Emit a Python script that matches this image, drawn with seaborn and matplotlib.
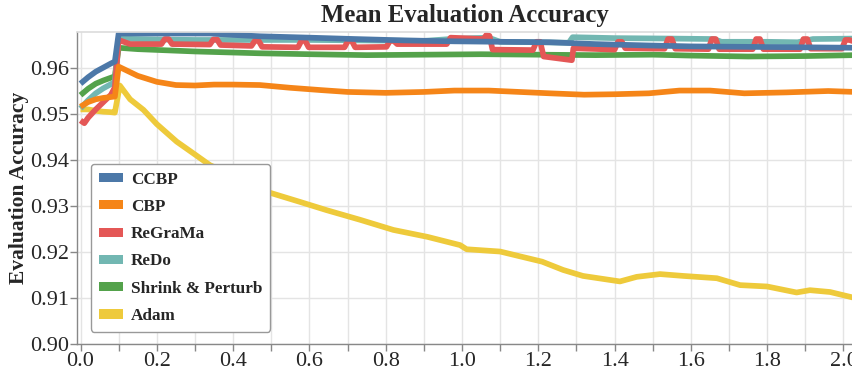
import pandas as pd
import numpy as np
import matplotlib
matplotlib.use("Agg")
import matplotlib.pyplot as plt
from matplotlib.patches import Patch
import seaborn as sns

# ---- data (x in units of the run, y = mean eval accuracy) ----
ccbp_x = [0.00, 0.02, 0.04, 0.06, 0.08, 0.09, 0.10, 0.20, 0.34, 0.40, 0.47, 0.60, 0.72,
          0.85, 0.98, 1.10, 1.23, 1.35, 1.49, 1.60, 1.75, 1.90, 2.03]
ccbp_y = [0.9566, 0.9580, 0.9592, 0.9601, 0.9610, 0.9614, 0.9675, 0.9675, 0.9675, 0.9672,
          0.9669, 0.9666, 0.9663, 0.9660, 0.9658, 0.9657, 0.9656, 0.9652, 0.9649, 0.9647,
          0.9646, 0.9645, 0.9644]

cbp_x = [0.00, 0.02, 0.04, 0.06, 0.08, 0.09, 0.10, 0.12, 0.15, 0.20, 0.25, 0.30, 0.35,
         0.40, 0.47, 0.55, 0.63, 0.70, 0.80, 0.90, 0.98, 1.07, 1.15, 1.23, 1.32, 1.40,
         1.49, 1.57, 1.65, 1.74, 1.85, 1.96, 2.03]
cbp_y = [0.9516, 0.9526, 0.9532, 0.9535, 0.9537, 0.9538, 0.9603, 0.9595, 0.9583, 0.9570,
         0.9563, 0.9562, 0.9564, 0.9564, 0.9563, 0.9557, 0.9552, 0.9548, 0.9546, 0.9548,
         0.9551, 0.9551, 0.9548, 0.9545, 0.9542, 0.9543, 0.9545, 0.9551, 0.9551, 0.9545,
         0.9547, 0.9550, 0.9548]

regrama_x = [0.00, 0.01, 0.02, 0.04, 0.06, 0.08, 0.09, 0.10, 0.11, 0.13,
             0.212, 0.221, 0.231, 0.240,
             0.339, 0.348, 0.358, 0.367,
             0.448, 0.457, 0.467, 0.476,
             0.570, 0.579, 0.589, 0.598,
             0.692, 0.701, 0.711, 0.720,
             0.802, 0.811, 0.821, 0.830,
             0.960, 0.970, 1.000, 1.056, 1.064, 1.072, 1.080,
             1.186, 1.195, 1.205, 1.214, 1.288, 1.292,
             1.400, 1.409, 1.419, 1.428,
             1.531, 1.540, 1.550, 1.559,
             1.646, 1.655, 1.665, 1.674,
             1.762, 1.771, 1.781, 1.790,
             1.886, 1.895, 1.905, 1.914,
             1.996, 2.005, 2.015, 2.03]
regrama_y = [0.9486, 0.9480, 0.9492, 0.9510, 0.9526, 0.9542, 0.9558, 0.9661, 0.9658, 0.9652,
             0.9652, 0.9663, 0.9663, 0.9652,
             0.9651, 0.9662, 0.9662, 0.9650,
             0.9648, 0.9659, 0.9659, 0.9646,
             0.9645, 0.9659, 0.9659, 0.9645,
             0.9645, 0.9659, 0.9659, 0.9645,
             0.9646, 0.9659, 0.9659, 0.9652,
             0.9652, 0.9666, 0.9665, 0.9663, 0.9672, 0.9670, 0.9640,
             0.9639, 0.9657, 0.9657, 0.9625, 0.9617, 0.9643,
             0.9640, 0.9657, 0.9657, 0.9643,
             0.9642, 0.9663, 0.9663, 0.9642,
             0.9641, 0.9663, 0.9663, 0.9641,
             0.9641, 0.9663, 0.9663, 0.9641,
             0.9641, 0.9663, 0.9663, 0.9642,
             0.9642, 0.9661, 0.9661, 0.9657]

redo_x = [0.00, 0.02, 0.04, 0.06, 0.08, 0.09, 0.10, 0.20, 0.30, 0.45, 0.60, 0.75, 0.90,
          0.97, 1.03, 1.07, 1.10, 1.20, 1.28, 1.29, 1.40, 1.55, 1.66, 1.68, 1.80, 1.88,
          1.92, 2.03]
redo_y = [0.9512, 0.9530, 0.9545, 0.9556, 0.9565, 0.9570, 0.9664, 0.9662, 0.9661, 0.9661,
          0.9661, 0.9660, 0.9659, 0.9663, 0.9665, 0.9666, 0.9657, 0.9656, 0.9655, 0.9667,
          0.9665, 0.9664, 0.9663, 0.9657, 0.9657, 0.9656, 0.9663, 0.9664]

snp_x = [0.00, 0.02, 0.04, 0.06, 0.08, 0.09, 0.10, 0.15, 0.30, 0.47, 0.60, 0.75, 0.90,
         1.05, 1.20, 1.35, 1.50, 1.60, 1.75, 1.90, 2.03]
snp_y = [0.9541, 0.9555, 0.9566, 0.9573, 0.9579, 0.9582, 0.9644, 0.9641, 0.9636, 0.9632,
         0.9630, 0.9628, 0.9629, 0.9630, 0.9629, 0.9628, 0.9629, 0.9627, 0.9625, 0.9626,
         0.9628]

adam_x = [0.00, 0.02, 0.04, 0.06, 0.08, 0.09, 0.103, 0.13, 0.165, 0.20, 0.252, 0.30,
          0.339, 0.40, 0.45, 0.488, 0.575, 0.645, 0.733, 0.82, 0.909, 0.995, 1.012, 1.10,
          1.21, 1.265, 1.317, 1.414, 1.458, 1.519, 1.58, 1.668, 1.729, 1.80, 1.877, 1.912,
          1.965, 2.03]
adam_y = [0.9510, 0.9510, 0.9507, 0.9505, 0.9504, 0.9503, 0.9562, 0.9532, 0.9509, 0.9478,
          0.9440, 0.9412, 0.9389, 0.9366, 0.9348, 0.9331, 0.9309, 0.9291, 0.9270, 0.9248,
          0.9233, 0.9215, 0.9206, 0.9201, 0.9179, 0.9161, 0.9148, 0.9136, 0.9146, 0.9152,
          0.9148, 0.9143, 0.9128, 0.9125, 0.9112, 0.9117, 0.9113, 0.9100]

methods = ["CCBP", "CBP", "ReGraMa", "ReDo", "Shrink & Perturb", "Adam"]
colors = ["#4c78a8", "#f58518", "#e45756", "#72b7b2", "#54a24b", "#eeca3b"]

series = {
    "CCBP": (ccbp_x, ccbp_y),
    "CBP": (cbp_x, cbp_y),
    "ReGraMa": (regrama_x, regrama_y),
    "ReDo": (redo_x, redo_y),
    "Shrink & Perturb": (snp_x, snp_y),
    "Adam": (adam_x, adam_y),
}

df = pd.concat(
    [pd.DataFrame({"step": xs, "accuracy": ys, "method": name})
     for name, (xs, ys) in series.items()],
    ignore_index=True,
)

sns.set_theme(style="whitegrid")
plt.rcParams["font.family"] = ["Liberation Serif", "DejaVu Serif"]

fig = plt.figure(figsize=(8.52, 3.70), dpi=100)
ax = fig.add_axes([77 / 852, 26 / 370, 775 / 852, 312 / 370])

palette = dict(zip(methods, colors))
# draw last legend entry first so CCBP sits on top
sns.lineplot(data=df, x="step", y="accuracy", hue="method", hue_order=methods[::-1],
             palette=palette, estimator=None, sort=False, linewidth=4.1,
             legend=False, ax=ax)
for line in ax.get_lines():
    line.set_solid_capstyle("butt")
    line.set_solid_joinstyle("round")

ax.set_xlim(-0.0092, 2.0223)
ax.set_ylim(0.90, 0.96783)
ax.set_xticks(np.arange(0.0, 2.01, 0.2))
ax.set_xticks(np.arange(0.0, 2.05, 0.1), minor=True)
ax.set_yticks(np.arange(0.90, 0.965, 0.01))
ax.set_xticklabels([f"{v:.1f}" for v in np.arange(0.0, 2.01, 0.2)])
ax.set_yticklabels([f"{v:.2f}" for v in np.arange(0.90, 0.965, 0.01)])

ax.grid(True, which="both", color="#e4e4e4", linewidth=1)
ax.set_axisbelow(True)
ax.tick_params(axis="both", which="both", direction="out", length=5, width=1,
               color="#888888", labelsize=16, bottom=True, left=True)
ax.tick_params(axis="x", which="both", pad=1)
ax.tick_params(axis="y", which="both", pad=0.5)

for side in ["left", "bottom"]:
    ax.spines[side].set_color("#888888")
    ax.spines[side].set_linewidth(1)
ax.spines["top"].set_color("#dddddd")
ax.spines["right"].set_visible(False)

ax.set_xlabel("")
ax.set_ylabel("Evaluation Accuracy", fontsize=15.5, fontweight="bold", labelpad=1)
ax.set_title("Mean Evaluation Accuracy", fontsize=17.8, fontweight="bold", pad=7)

handles = [Patch(facecolor=c, edgecolor="none", label=m) for m, c in zip(methods, colors)]
leg = ax.legend(handles=handles, loc="upper left", bbox_to_anchor=(0.018, 0.577),
                borderaxespad=0, frameon=True, fancybox=True, framealpha=1,
                edgecolor="#999999", prop={"weight": "bold", "size": 12.3},
                handlelength=1.45, handleheight=0.45, handletextpad=0.45,
                labelspacing=0.66, borderpad=0.45)
leg.get_frame().set_linewidth(1)

fig.savefig("out.png", dpi=100)
